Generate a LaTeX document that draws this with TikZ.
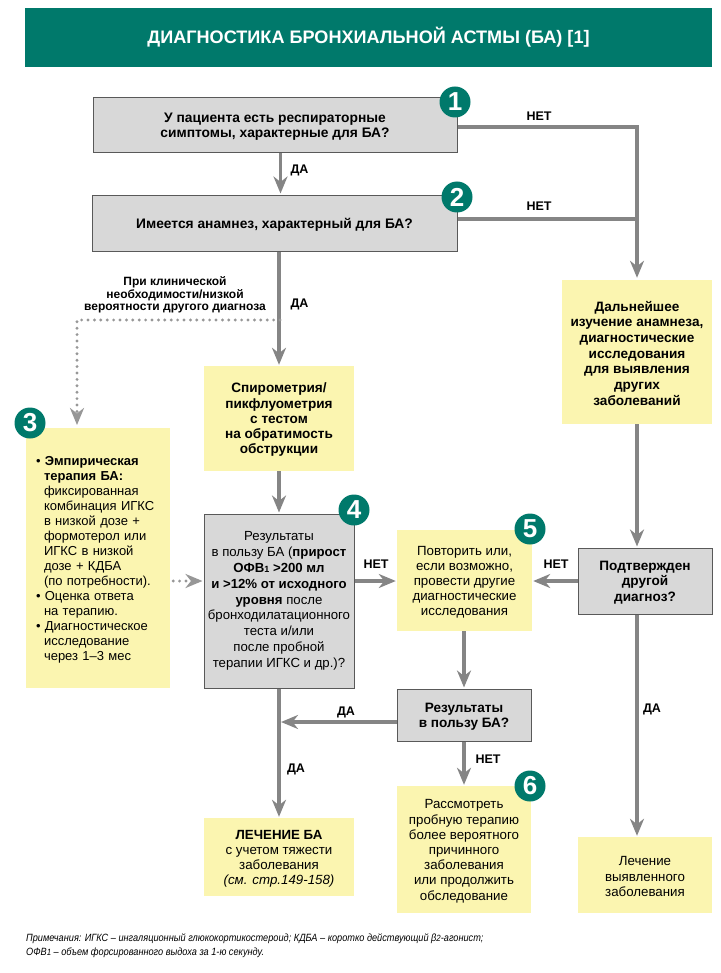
\documentclass[tikz,border=0pt]{standalone}
\usepackage{fontspec}
\setmainfont{Liberation Sans}
\usetikzlibrary{arrows.meta,calc}
\definecolor{teal1}{HTML}{00796B}
\definecolor{yell}{HTML}{FBF5B0}
\definecolor{grayb}{HTML}{D8D8D8}
\definecolor{lineg}{HTML}{858585}
\newcommand\subn[1]{{\fontsize{9}{15}\selectfont #1}}
\newcommand\tp{\rule{0pt}{12.5pt}}
\tikzset{
  base/.style={inner sep=0pt,align=center,font=\fontsize{13.3}{15.2}\selectfont},
  ybox/.style={base,fill=yell,text=black},
  gbox/.style={base,fill=grayb,draw=black!65,line width=1pt},
  flow/.style={draw=lineg,line width=3.6pt,-{Stealth[length=17pt,width=14pt,inset=5.5pt]}},
  dots/.style={draw=lineg!85,line width=3.2pt,line cap=round,dash pattern=on 0pt off 6.4pt,-{Stealth[length=17pt,width=14pt,inset=5.5pt]}},
  lab/.style={inner sep=0pt,font=\fontsize{12.5}{14}\selectfont\bfseries},
  num/.style={circle,fill=teal1,text=white,minimum size=31pt,inner sep=0pt,font=\fontsize{26}{26}\selectfont\bfseries},
}
\begin{document}
\begin{tikzpicture}[x=1pt,y=-1pt]
\useasboundingbox (0,0) rectangle (720,973);
\node[fill=teal1,text=white,minimum width=687pt,minimum height=59pt,inner sep=0pt,font=\fontsize{18.1}{20}\selectfont\bfseries] (title) at (368.5,37.5) {ДИАГНОСТИКА БРОНХИАЛЬНОЙ АСТМЫ (БА) [1]};
\node[gbox,minimum width=364pt,minimum height=55pt,font=\fontsize{13.8}{15.2}\selectfont] (b1) at (275,125.5) {\tp\bfseries У пациента есть респираторные\\\bfseries симптомы, характерные для БА?};
\node[gbox,minimum width=365pt,minimum height=56pt,font=\fontsize{13.8}{15.2}\selectfont] (b2) at (274.5,224) {\tp\bfseries Имеется анамнез, характерный для БА?};
\node[ybox,minimum width=150pt,minimum height=144pt,font=\fontsize{13.6}{15.7}\selectfont] (ry) at (637,352) {\tp\bfseries Дальнейшее\\\bfseries изучение анамнеза,\\\bfseries диагностические\\\bfseries исследования\\\bfseries для выявления\\\bfseries других\\\bfseries заболеваний};
\node[ybox,minimum width=150pt,minimum height=105pt,font=\fontsize{13.6}{15.2}\selectfont] (sp) at (279,418.5) {\tp\bfseries Спирометрия/\\\bfseries пикфлуометрия\\\bfseries с тестом\\\bfseries на обратимость\\\bfseries обструкции};
\node[ybox,minimum width=144pt,minimum height=260pt,text width=124pt,align=left,font=\fontsize{13}{14.95}\selectfont] (b3) at (98,558) {\tp• \textbf{Эмпирическая}\\
\hspace*{8pt}\textbf{терапия БА:}\\
\hspace*{8pt}фиксированная\\
\hspace*{8pt}комбинация ИГКС\\
\hspace*{8pt}в низкой дозе +\\
\hspace*{8pt}формотерол или\\
\hspace*{8pt}ИГКС в низкой\\
\hspace*{8pt}дозе + КДБА\\
\hspace*{8pt}(по потребности).\\
• Оценка ответа\\
\hspace*{8pt}на терапию.\\
• Диагностическое\\
\hspace*{8pt}исследование\\
\hspace*{8pt}через 1–3 мес};
\node[gbox,minimum width=150pt,minimum height=174pt,font=\fontsize{13.2}{15.8}\selectfont] (b4) at (279,601) {Результаты\\в пользу БА (\textbf{прирост}\\\textbf{ОФВ\subn{1} >200 мл}\\\textbf{и >12\% от исходного}\\\textbf{уровня} после\\бронходилатационного\\теста и/или\\после пробной\\терапии ИГКС и др.)?};
\node[ybox,minimum width=135pt,minimum height=101pt] (b5) at (464.5,580.5) {\tp Повторить или,\\если возможно,\\провести другие\\диагностические\\исследования};
\node[gbox,minimum width=134pt,minimum height=66pt,font=\fontsize{13.6}{15.2}\selectfont] (cf) at (645,581) {\tp\bfseries Подтвержден\\\bfseries другой\\\bfseries диагноз?};
\node[gbox,minimum width=134pt,minimum height=52pt,font=\fontsize{13.6}{15.2}\selectfont] (rs) at (464,715) {\tp\bfseries Результаты\\\bfseries в пользу БА?};
\node[ybox,minimum width=134pt,minimum height=127pt] (b6) at (464,849.5) {\tp Рассмотреть\\пробную терапию\\более вероятного\\причинного\\заболевания\\или продолжить\\обследование};
\node[ybox,minimum width=150pt,minimum height=78pt] (tr) at (279,857) {\tp\textbf{ЛЕЧЕНИЕ БА}\\с учетом тяжести\\заболевания\\\textit{(см. стр.149-158)}};
\node[ybox,minimum width=134pt,minimum height=76pt] (t2) at (645,875) {\tp Лечение\\выявленного\\заболевания};
% connectors
\coordinate (j1) at ($(b1.east)+(0,1.5)$);
\coordinate (j2) at ($(b2.east)+(0,-5)$);
\coordinate (d1) at (280,320);
\coordinate (d2) at (77,320);
\coordinate (d3) at (77,428);
\draw[flow] (j1) -- (j1 -| ry.north) -- ([yshift=2pt]ry.north);
\draw[draw=lineg,line width=3.6pt] (j2) -- (j2 -| ry.north);
\draw[flow] ([xshift=5.5pt]b1.south) -- ([xshift=5.5pt,yshift=2pt]b1.south |- b2.north);
\draw[flow] (b2.south -| sp.north) -- ([yshift=1pt]sp.north);
\draw[dots] (d1) -- (d2) -- ([yshift=3pt]d3);
\draw[dots] ([yshift=-23pt,xshift=3pt]b3.east) -- ([yshift=-23pt,xshift=-1pt]b3.east -| b4.west);
\draw[flow] (sp.south) -- ([yshift=1pt]b4.north);
\draw[flow] (b4.south) -- ([yshift=1pt]tr.north);
\coordinate (s4) at ([yshift=20pt]b4.east);
\draw[flow] (s4) -- ([xshift=-1pt]s4 -| b5.west);
\draw[flow] (cf.west) -- ([xshift=1pt]cf.west -| b5.east);
\draw[flow] (b5.south -| rs.north) -- ([yshift=1pt]rs.north);
\draw[flow] (rs.south) -- ([yshift=1pt]b6.north);
\coordinate (s5) at ([yshift=-7pt]rs.west);
\draw[flow] (s5) -- ([xshift=2pt]s5 -| b4.south);
\draw[flow] (ry.south) -- ([yshift=1pt]ry.south |- cf.north);
\draw[flow] (cf.south -| ry.south) -- ([yshift=1pt]ry.south |- t2.north);
% labels
\node[lab] (l1) at (299.5,170.5) {ДА};
\node[lab] (l2) at (539,116.5) {НЕТ};
\node[lab] (l3) at (539,206.5) {НЕТ};
\node[lab] (l4) at (299.5,304.5) {ДА};
\node[lab] (l5) at (376,564.5) {НЕТ};
\node[lab] (l6) at (556,564.5) {НЕТ};
\node[lab] (l7) at (346,712.5) {ДА};
\node[lab] (l8) at (488,759.5) {НЕТ};
\node[lab] (l9) at (296,769.5) {ДА};
\node[lab] (l10) at (652,709.5) {ДА};
\node[inner sep=0pt,align=center,font=\fontsize{12}{12.4}\selectfont\bfseries] (cap) at (175,295) {При клинической\\необходимости/низкой\\вероятности другого диагноза};
\node[num] (n1) at (455,102) {1};
\node[num] (n2) at (457,197) {2};
\node[num] (n3) at (30,423) {3};
\node[num] (n4) at (354,510) {4};
\node[num] (n5) at (530,529) {5};
\node[num] (n6) at (530,786) {6};
\node[anchor=north west,inner sep=0pt,align=left,font=\fontsize{10.5}{14}\selectfont\itshape\addfontfeature{FakeStretch=0.875}] (note) at (26,934) {Примечания: ИГКС – ингаляционный глюкокортикостероид; КДБА –  коротко действующий β\subn{2}-агонист;\\ОФВ\subn{1} – объем форсированного выдоха за 1-ю секунду.};
\end{tikzpicture}
\end{document}
